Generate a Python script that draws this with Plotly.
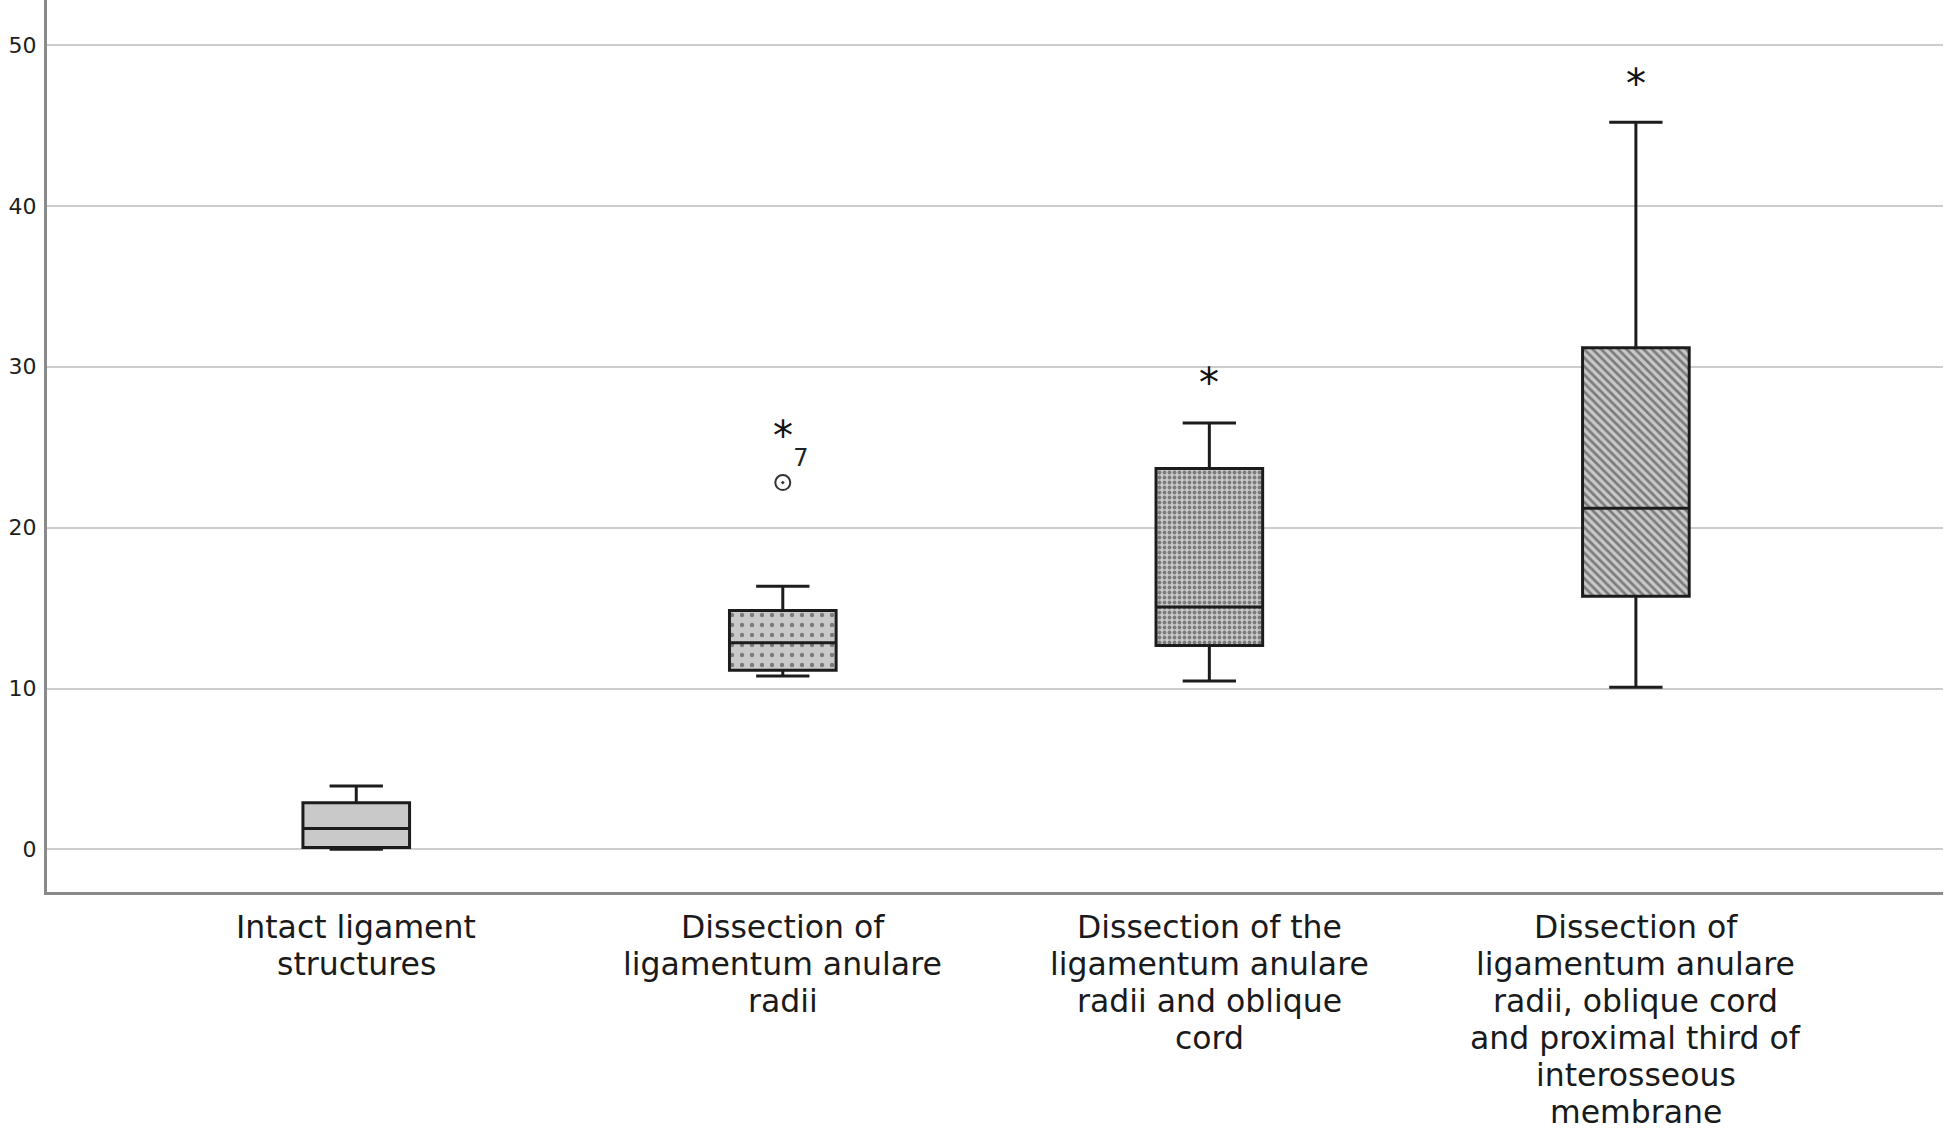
import plotly.graph_objects as go

# ---- data ----
categories = [
    "Intact ligament structures",
    "Dissection of ligamentum anulare radii",
    "Dissection of the ligamentum anulare radii and oblique cord",
    "Dissection of ligamentum anulare radii, oblique cord and proximal third of interosseous membrane",
]
label_lines = [
    ["Intact ligament", "structures"],
    ["Dissection of", "ligamentum anulare", "radii"],
    ["Dissection of the", "ligamentum anulare", "radii and oblique", "cord"],
    ["Dissection of", "ligamentum anulare", "radii, oblique cord", "and proximal third of", "interosseous", "membrane"],
]
lower_whisker = [0.0, 10.78, 10.46, 10.08]
q1_values = [0.12, 11.13, 12.68, 15.74]
median_values = [1.3, 12.85, 15.06, 21.21]
q3_values = [2.9, 14.85, 23.67, 31.19]
upper_whisker = [3.94, 16.35, 26.51, 45.2]

outlier_cat = [categories[1]]
outlier_val = [22.8]
outlier_label = ["7"]

extreme_cat = [categories[1], categories[2], categories[3]]
extreme_val = [26.2, 29.5, 48.1]

y_ticks = [0, 10, 20, 30, 40, 50]

pattern_shapes = ["", ".", ".", "\\"]
pattern_sizes = [8, 10, 5, 6]
pattern_solidity = [0.2, 0.15, 0.45, 0.45]

# ---- figure ----
fig = go.Figure()

fig.add_trace(go.Bar(
    x=categories,
    y=[q3 - q1 for q1, q3 in zip(q1_values, q3_values)],
    base=q1_values,
    width=0.25,
    marker=dict(
        color="#c9c9c9",
        line=dict(width=0),
        pattern=dict(shape=pattern_shapes, size=pattern_sizes,
                     solidity=pattern_solidity, fgcolor="#2e2e2e"),
    ),
    showlegend=False,
    hoverinfo="skip",
))

fig.add_trace(go.Box(
    x=categories,
    q1=q1_values,
    median=median_values,
    q3=q3_values,
    lowerfence=lower_whisker,
    upperfence=upper_whisker,
    boxpoints=False,
    width=0.25,
    whiskerwidth=0.5,
    fillcolor="rgba(0,0,0,0)",
    line=dict(color="#1c1c1c", width=3),
    showlegend=False,
))

fig.add_trace(go.Scatter(
    x=outlier_cat, y=outlier_val,
    mode="markers+text",
    marker=dict(symbol="circle-open-dot", size=15, color="#333333",
                line=dict(width=2, color="#333333")),
    text=outlier_label, textposition="top right",
    textfont=dict(family="DejaVu Sans", size=24, color="#222222"),
    showlegend=False,
))

annotations = []
# extreme values (stars)
for cat, val in zip(extreme_cat, extreme_val):
    annotations.append(dict(
        x=cat, xref="x", y=val, yref="y", text="*", showarrow=False,
        xanchor="center", yanchor="middle", yshift=-8,
        font=dict(family="DejaVu Sans", size=40, color="#111111"),
    ))

# category labels, one line each
line_gap = 37
for cat, lines in zip(categories, label_lines):
    for i, ln in enumerate(lines):
        annotations.append(dict(
            x=cat, xref="x", y=0, yref="paper",
            text=ln, showarrow=False,
            xanchor="center", yanchor="middle",
            yshift=-(35 + line_gap * i),
            borderpad=0,
            font=dict(family="DejaVu Sans", size=31.5, color="#1a1a1a"),
        ))

fig.update_layout(
    width=1946, height=1132,
    margin=dict(l=47, r=3, t=0, b=240, autoexpand=False),
    paper_bgcolor="white", plot_bgcolor="white",
    annotations=annotations,
    xaxis=dict(
        type="category", range=[-0.725, 3.72], automargin=False,
        showticklabels=False, showgrid=False,
        showline=True, linecolor="#8a8a8a", linewidth=3,
        ticks="", zeroline=False,
    ),
    yaxis=dict(
        range=[-2.65, 52.8], tickvals=y_ticks, automargin=False,
        showgrid=True, gridcolor="#cccccc", gridwidth=2,
        showline=True, linecolor="#8a8a8a", linewidth=3,
        zeroline=False, ticks="", ticklabelstandoff=3,
        tickfont=dict(family="DejaVu Sans", size=22, color="#1e1e1e"),
    ),
)

fig.write_html(
    "out.html",
    config={"displayModeBar": False},
    post_script="document.body.style.margin='0';document.body.style.overflow='hidden';",
)
